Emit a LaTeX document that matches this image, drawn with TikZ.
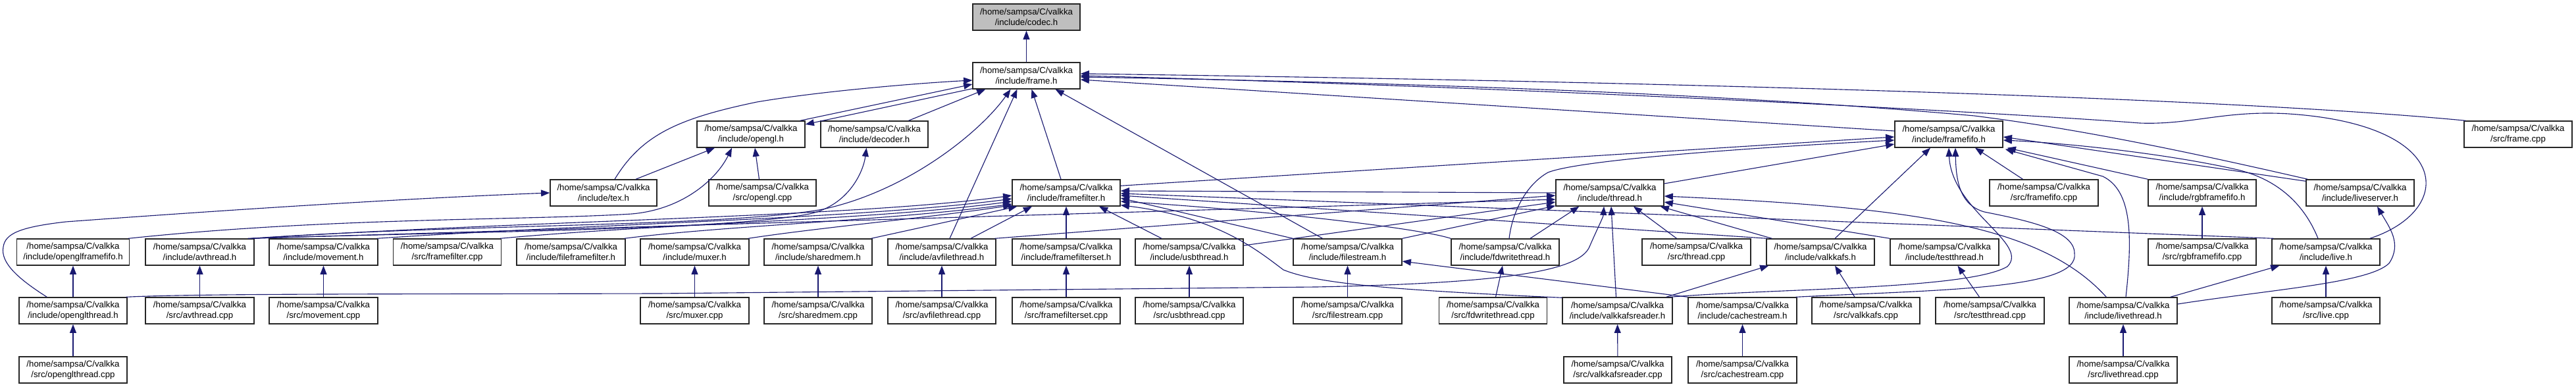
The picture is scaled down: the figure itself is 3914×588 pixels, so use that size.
\documentclass[tikz,border=0pt]{standalone}
\usepackage{fontspec}
\newfontfamily\labfont{Liberation Sans}
\usetikzlibrary{arrows.meta,calc}
\definecolor{edgeblue}{HTML}{191970}
\definecolor{codecgray}{HTML}{BFBFBF}
\newcommand{\dnode}[5][]{\node[box,minimum width=#4*0.25mm,#1] (#2) at (#3) {/home/sampsa/C/valkka\\#5};}
\begin{document}
\begin{tikzpicture}[x=0.25mm,y=-0.25mm,
  box/.style={draw=black!85,line width=0.35mm,fill=white,minimum height=10mm,inner sep=0pt,align=center,
    font=\labfont\fontsize{9.4}{11.4}\selectfont},
  edge/.style={draw=edgeblue,line width=0.28mm,-{Triangle[length=3.3mm,width=2.5mm]}}]
\useasboundingbox (0,0) rectangle (3914,588);
% row 0-1
\dnode[fill=codecgray]{codec}{1559.5,26}{163}{/include/codec.h}
\dnode{frame}{1559.5,115}{163}{/include/frame.h}
% row 2
\dnode{opengl}{1141,204}{164}{/include/opengl.h}
\dnode{decoder}{1328.5,204}{163}{/include/decoder.h}
\dnode{framefifo}{2961,204}{164}{/include/framefifo.h}
\dnode{framecpp}{3826,204}{164}{/src/frame.cpp}
% row 3
\dnode{tex}{917,293}{162}{/include/tex.h}
\dnode{openglcpp}{1158.5,293}{163}{/src/opengl.cpp}
\dnode{framefilter}{1620,293}{164}{/include/framefilter.h}
\dnode{thread}{2446,293}{164}{/include/thread.h}
\dnode{framefifocpp}{3105.5,293}{165}{/src/framefifo.cpp}
\dnode{rgbframefifo}{3346,293}{164}{/include/rgbframefifo.h}
\dnode{liveserver}{3586,293}{164}{/include/liveserver.h}
% row 4
\dnode{openglframefifo}{111,383}{171}{/include/openglframefifo.h}
\dnode{avthread}{303.5,383}{165}{/include/avthread.h}
\dnode{movement}{491.5,383}{165}{/include/movement.h}
\dnode{framefiltercpp}{679.5,383}{164}{/src/framefilter.cpp}
\dnode{fileframefilter}{867.5,383}{165}{/include/fileframefilter.h}
\dnode{muxer}{1055.5,383}{165}{/include/muxer.h}
\dnode{sharedmem}{1243,383}{164}{/include/sharedmem.h}
\dnode{avfilethread}{1431,383}{164}{/include/avfilethread.h}
\dnode{framefilterset}{1620,383}{164}{/include/framefilterset.h}
\dnode{usbthread}{1807,383}{164}{/include/usbthread.h}
\dnode{filestream}{2047.5,383}{165}{/include/filestream.h}
\dnode{fdwritethread}{2287,383}{164}{/include/fdwritethread.h}
\dnode{threadcpp}{2577.5,383}{165}{/src/thread.cpp}
\dnode{valkkafs}{2766,383}{164}{/include/valkkafs.h}
\dnode{testthread}{2954.5,383}{165}{/include/testthread.h}
\dnode{rgbframefifocpp}{3346,383}{164}{/src/rgbframefifo.cpp}
\dnode{live}{3534,383}{164}{/include/live.h}
% row 5
\dnode{openglthread}{111,472}{164}{/include/openglthread.h}
\dnode{avthreadcpp}{303.5,472}{165}{/src/avthread.cpp}
\dnode{movementcpp}{491.5,472}{165}{/src/movement.cpp}
\dnode{muxercpp}{1055.5,472}{165}{/src/muxer.cpp}
\dnode{sharedmemcpp}{1243,472}{164}{/src/sharedmem.cpp}
\dnode{avfilethreadcpp}{1431,472}{164}{/src/avfilethread.cpp}
\dnode{framefiltersetcpp}{1620,472}{164}{/src/framefilterset.cpp}
\dnode{usbthreadcpp}{1807,472}{164}{/src/usbthread.cpp}
\dnode{filestreamcpp}{2047.5,472}{165}{/src/filestream.cpp}
\dnode{fdwritethreadcpp}{2268.5,472}{164}{/src/fdwritethread.cpp}
\dnode{valkkafsreader}{2457.5,472}{167}{/include/valkkafsreader.h}
\dnode{cachestream}{2647.5,472}{165}{/include/cachestream.h}
\dnode{valkkafscpp}{2835,472}{164}{/src/valkkafs.cpp}
\dnode{testthreadcpp}{3023.5,472}{165}{/src/testthread.cpp}
\dnode{livethread}{3226,472}{164}{/include/livethread.h}
\dnode{livecpp}{3534,472}{164}{/src/live.cpp}
% row 6
\dnode{openglthreadcpp}{111,562}{164}{/src/openglthread.cpp}
\dnode{valkkafsreadercpp}{2458,562}{164}{/src/valkkafsreader.cpp}
\dnode{cachestreamcpp}{2647.5,562}{165}{/src/cachestream.cpp}
\dnode{livethreadcpp}{3226,562}{164}{/src/livethread.cpp}

% ---- edges: to codec.h
\draw[edge] (frame) -- (codec);
% ---- to frame.h
\draw[edge] ($(tex.north)+(17,0)$) .. controls (975,205) and (1030,180) .. (1150,155) .. controls (1250,138) and (1400,126) .. ($(frame.west)+(0,7)$);
\draw[edge] ($(opengl.north east)+(-8,0)$) -- ($(frame.west)+(0,13)$);
\draw[edge] ($(frame.south west)+(0,-1)$) -- ($(opengl.east)+(0,-15)$);
\draw[edge] ($(decoder.north)+(52,0)$) -- ($(frame.south west)+(20,0)$);
\draw[edge] ($(avthread.north east)+(-6,0)$) .. controls (700,340) and (1100,345) .. (1250,318) .. controls (1380,290) and (1490,200) .. ($(frame.south)+(-24,0)$);
\draw[edge] ($(avfilethread.north)+(12,0)$) -- ($(frame.south)+(-14,0)$);
\draw[edge] ($(framefilter.north)+(-8,0)$) -- ($(frame.south)+(8,0)$);
\draw[edge] ($(filestream.north)+(-38,0)$) -- ($(frame.south)+(44,0)$);
\draw[edge] ($(framefifo.west)+(0,-5)$) -- ($(frame.east)+(0,6)$);
\draw[edge] ($(framecpp.north west)+(3,0)$) .. controls (3400,150) and (2600,125) .. ($(frame.east)+(0,-3)$);
\draw[edge] ($(liveserver.north west)+(3,0)$) .. controls (3300,225) and (3150,195) .. (3000,176) .. controls (2600,140) and (2100,125) .. ($(frame.east)+(0,2)$);
\draw[edge] ($(live.north east)+(-16,0)$) .. controls (3730,320) and (3730,190) .. (3478,173) .. controls (3380,167) and (3330,190) .. (3251,187) .. controls (3100,175) and (2400,135) .. ($(frame.east)+(0,0)$);
% ---- to opengl.h
\draw[edge] ($(tex.north)+(49,0)$) -- ($(opengl.south)+(-55,0)$);
\draw[edge] ($(openglframefifo.north east)+(-2,0)$) .. controls (500,330) and (800,335) .. (960,325) .. controls (1040,318) and (1090,270) .. ($(opengl.south)+(-29,0)$);
\draw[edge] ($(openglcpp.north)+(-5,0)$) -- ($(opengl.south)+(6,0)$);
% ---- to decoder.h
\draw[edge] ($(avthread.north east)+(-10,0)$) .. controls (700,352) and (1100,350) .. (1230,325) .. controls (1290,312) and (1312,260) .. ($(decoder.south)+(-12,0)$);
% ---- to tex.h
\draw[edge] ($(openglthread.north west)+(43,0)$) .. controls (30,425) and (0,400) .. (5,375) .. controls (8,355) and (30,345) .. (100,337) .. controls (400,315) and (650,300) .. (tex.west);
% ---- to openglframefifo.h
\draw[edge] (openglthread) -- (openglframefifo);
\draw[edge] (openglthreadcpp) -- (openglthread);
% ---- openglthread to thread.h
\draw[edge] ($(openglthread.north east)+(-2,0)$) .. controls (300,446) and (600,447) .. (1000,446) -- (2000,436) .. controls (2300,430) and (2400,410) .. (2415,375) .. controls (2428,345) and (2436,330) .. ($(thread.south)+(-9,0)$);
% ---- to framefilter.h from the left
\draw[edge] ($(avthread.north east)+(-2,0)$) .. controls (800,335) and (1300,330) .. ($(framefilter.west)+(0,4)$);
\draw[edge] ($(movement.north east)+(-2,0)$) .. controls (900,340) and (1300,333) .. ($(framefilter.west)+(0,9)$);
\draw[edge] ($(framefiltercpp.north east)+(-2,0)$) .. controls (1000,340) and (1320,335) .. ($(framefilter.west)+(0,13)$);
\draw[edge] ($(fileframefilter.north east)+(-2,0)$) .. controls (1100,343) and (1350,335) .. ($(framefilter.west)+(0,17)$);
\draw[edge] ($(muxer.north east)+(-2,0)$) .. controls (1250,345) and (1420,330) .. ($(framefilter.south west)+(0,-2)$);
\draw[edge] ($(sharedmem.north east)+(-2,0)$) -- ($(framefilter.south west)+(8,0)$);
\draw[edge] ($(avfilethread.north)+(44,0)$) -- ($(framefilter.south)+(-52,0)$);
\draw[edge] (framefilterset) -- (framefilter);
\draw[edge] ($(usbthread.north)+(-42,0)$) -- ($(framefilter.south)+(50,0)$);
% ---- to framefilter.h from the right
\draw[edge] (thread.west) -- ($(framefilter.east)+(0,-3)$);
\draw[edge] (filestream.north west) -- ($(framefilter.east)+(0,8)$);
\draw[edge] (fdwritethread.north west) .. controls (2150,345) and (1900,318) .. ($(framefilter.east)+(0,13)$);
\draw[edge] ($(valkkafs.north west)+(2,0)$) -- ($(framefilter.east)+(0,4)$);
\draw[edge] ($(live.north west)+(3,0)$) -- ($(framefilter.east)+(0,1)$);
\draw[edge] ($(valkkafsreader.north west)+(0,1)$) .. controls (2100,440) and (2000,430) .. (1950,410) .. controls (1910,380) and (1850,330) .. ($(framefilter.south east)+(0,-2)$);
% ---- to thread.h
\draw[edge] ($(avthread.north east)+(-4,0)$) -- ($(thread.west)+(0,10)$);
\draw[edge] ($(avfilethread.north east)+(-2,0)$) -- ($(thread.west)+(0,4)$);
\draw[edge] ($(usbthread.east)+(0,-10)$) -- ($(thread.west)+(0,14)$);
\draw[edge] (filestream.north east) -- ($(thread.south west)+(0,-1)$);
\draw[edge] ($(fdwritethread.north)+(38,0)$) -- ($(thread.south west)+(36,0)$);
\draw[edge] ($(threadcpp.north)+(-30,0)$) -- ($(thread.south)+(36,0)$);
\draw[edge] ($(valkkafs.north west)+(9,0)$) -- ($(thread.south east)+(-6,0)$);
\draw[edge] (testthread.north west) -- ($(thread.east)+(0,14)$);
\draw[edge] ($(valkkafsreader.north)+(-2,0)$) -- ($(thread.south)+(2,0)$);
\draw[edge] ($(livethread.north west)+(57,0)$) .. controls (3100,340) and (2900,315) .. ($(thread.east)+(0,5)$);
% ---- to framefifo.h
\draw[edge] ($(framefilter.north east)+(0,10)$) -- ($(framefifo.west)+(0,4)$);
\draw[edge] ($(fdwritethread.north)+(6,0)$) .. controls (2298,320) and (2320,280) .. (2352,262) .. controls (2400,243) and (2650,225) .. ($(framefifo.west)+(0,9)$);
\draw[edge] ($(thread.east)+(0,-14)$) -- ($(framefifo.west)+(0,15)$);
\draw[edge] ($(valkkafs.north)+(22,0)$) -- ($(framefifo.south)+(-28,0)$);
\draw[edge] ($(framefifocpp.north)+(-32,0)$) -- ($(framefifo.south)+(40,0)$);
\draw[edge] (rgbframefifo.north west) -- ($(framefifo.south east)+(6,0)$);
\draw[edge] ($(livethread.north)+(4,0)$) .. controls (3240,360) and (3240,290) .. (3195,268) -- ($(framefifo.south east)+(3,2)$);
\draw[edge] ($(liveserver.north west)+(0,3)$) -- ($(framefifo.east)+(0,4)$);
\draw[edge] ($(live.north)+(-12,0)$) .. controls (3505,320) and (3470,275) .. (3400,258) .. controls (3300,235) and (3150,218) .. ($(framefifo.east)+(0,9)$);
\draw[edge] ($(valkkafsreader.north east)+(-4,0)$) .. controls (2700,438) and (2990,440) .. (3050,405) .. controls (3085,370) and (2965,320) .. (framefifo.south);
\draw[edge] ($(cachestream.north east)+(-2,0)$) .. controls (2950,440) and (3160,440) .. (3152,385) .. controls (3152,350) and (3080,335) .. (3015,322) .. controls (2980,312) and (2972,280) .. ($(framefifo.south)+(10,0)$);
% ---- others
\draw[edge] (cachestream.north west) -- ($(filestream.east)+(0,14)$);
\draw[edge] ($(valkkafsreader.north east)+(-10,0)$) -- ($(valkkafs.south west)+(4,0)$);
\draw[edge] ($(livethread.north east)+(-11,0)$) -- ($(live.south west)+(12,0)$);
\draw[edge] ($(livethread.east)+(0,-10)$) .. controls (3450,440) and (3600,430) .. (3630,400) .. controls (3650,370) and (3630,345) .. ($(liveserver.south)+(26,0)$);
% ---- leaf sources
\draw[edge] (avthreadcpp) -- (avthread);
\draw[edge] (movementcpp) -- (movement);
\draw[edge] (muxercpp) -- (muxer);
\draw[edge] (sharedmemcpp) -- (sharedmem);
\draw[edge] (avfilethreadcpp) -- (avfilethread);
\draw[edge] (framefiltersetcpp) -- (framefilterset);
\draw[edge] (usbthreadcpp) -- (usbthread);
\draw[edge] (filestreamcpp) -- (filestream);
\draw[edge] ($(fdwritethreadcpp.north)+(4,0)$) -- ($(fdwritethread.south)+(-4,0)$);
\draw[edge] ($(valkkafscpp.north)+(-17,0)$) -- ($(valkkafs.south)+(22,0)$);
\draw[edge] ($(testthreadcpp.north)+(-16,0)$) -- ($(testthread.south)+(20,0)$);
\draw[edge] (rgbframefifocpp) -- (rgbframefifo);
\draw[edge] (livecpp) -- (live);
\draw[edge] (valkkafsreadercpp) -- (valkkafsreader);
\draw[edge] (cachestreamcpp) -- (cachestream);
\draw[edge] (livethreadcpp) -- (livethread);
\end{tikzpicture}
\end{document}
